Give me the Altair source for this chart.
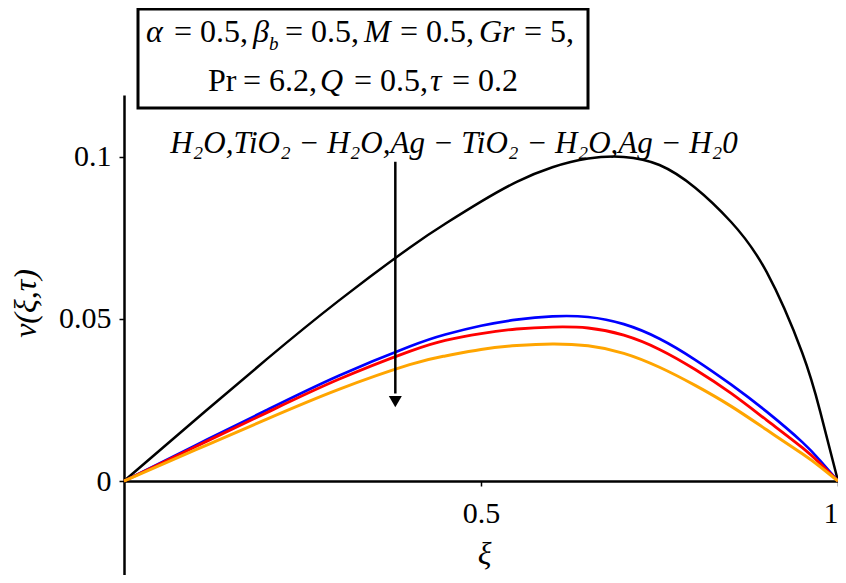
import altair as alt
import pandas as pd

# ---- data ----
xi = [0, 0.1, 0.2, 0.3, 0.4, 0.45, 0.5, 0.55, 0.6, 0.65, 0.7, 0.75, 0.8, 0.85, 0.9, 0.95, 0.975, 1.0]
v_h2o = [0, 0.0189, 0.0376, 0.0555, 0.0720, 0.0794, 0.0862, 0.0923, 0.0968, 0.0995, 0.1000,
         0.0975, 0.0905, 0.0800, 0.0645, 0.0395, 0.0215, 0]
v_tio2_h2o = [0, 0.0110, 0.0219, 0.0324, 0.0415, 0.0452, 0.0479, 0.0498, 0.0508, 0.0506, 0.0484,
              0.0439, 0.0374, 0.0298, 0.0214, 0.0120, 0.0063, 0]
v_ag_tio2_h2o = [0, 0.0106, 0.0211, 0.0313, 0.0400, 0.0434, 0.0455, 0.0469, 0.0475, 0.0472, 0.0450,
                 0.0406, 0.0344, 0.0271, 0.0188, 0.0103, 0.0054, 0]
v_ag_h2o = [0, 0.0096, 0.0191, 0.0282, 0.0359, 0.0386, 0.0406, 0.0418, 0.0423, 0.0417, 0.0394,
            0.0351, 0.0295, 0.0231, 0.0158, 0.0084, 0.0044, 0]

series_names = ["H2O", "TiO2-H2O", "Ag-TiO2-H2O", "Ag-H2O"]
series_colors = ["#000000", "#0000ff", "#ff0000", "#ffa500"]
series_widths = [2.5, 3, 3, 3]

x_ticks = [0.5, 1]
y_ticks = [0, 0.05, 0.1]
x_domain = [0, 1]
y_domain = [-0.029, 0.1191]

arrow_xi = [0.38]
arrow_top = [0.0985]
arrow_bottom = [0.027]
arrow_head = [0.0245]

annotation_text = "H₂O,TiO₂ − H₂O,Ag − TiO₂ − H₂O,Ag − H₂0"

rows = []
for name, vals in zip(series_names, [v_h2o, v_tio2_h2o, v_ag_tio2_h2o, v_ag_h2o]):
    for x, v in zip(xi, vals):
        rows.append({"xi": x, "v": v, "series": name})
df = pd.DataFrame(rows)

# ---- layout ----
W, H = 714, 480
PAD_L, PAD_T = 116, 87
OX, OY = PAD_L + 8, PAD_T + 8          # page position of plot origin
y0_px = H * (y_domain[1] - 0) / (y_domain[1] - y_domain[0])
FONT = "Liberation Serif"

xs = alt.Scale(domain=x_domain, nice=False, zero=False)
ys = alt.Scale(domain=y_domain, nice=False, zero=False)

x_axis = alt.Axis(
    values=x_ticks, format="~g", offset=-(H - y0_px), grid=False,
    domainColor="black", domainWidth=2.5, tickColor="black", tickWidth=1.5, tickSize=5,
    labelFont=FONT, labelFontSize=30, labelColor="black", labelPadding=12,
    title="ξ", titleFont=FONT, titleFontSize=32, titleFontStyle="italic",
    titleFontWeight="normal", titleColor="black",
    titleX=484 - OX, titleY=563 - (OY + y0_px), titleBaseline="alphabetic", titleAlign="center",
)
y_axis = alt.Axis(
    values=y_ticks, format="~g", grid=False,
    domainColor="black", domainWidth=2.5, tickColor="black", tickWidth=1.5, tickSize=5,
    labelFont=FONT, labelFontSize=30, labelColor="black", labelPadding=8,
    title="v(ξ,τ)", titleFont=FONT, titleFontSize=32, titleFontStyle="italic",
    titleFontWeight="normal", titleColor="black", titleAngle=270,
    titleX=25 - OX, titleY=303 - OY, titleBaseline="middle", titleAlign="center",
)

lines = alt.Chart(df).mark_line(interpolate="natural").encode(
    x=alt.X("xi:Q", scale=xs, axis=x_axis),
    y=alt.Y("v:Q", scale=ys, axis=y_axis),
    color=alt.Color("series:N", scale=alt.Scale(domain=series_names, range=series_colors), legend=None),
    strokeWidth=alt.StrokeWidth("series:N", scale=alt.Scale(domain=series_names, range=series_widths),
                                legend=None),
    detail="series:N",
)

arrow_df = pd.DataFrame({"xi": arrow_xi, "top": arrow_top, "bottom": arrow_bottom, "head": arrow_head})
arrow_rule = alt.Chart(arrow_df).mark_rule(color="black", strokeWidth=2.5).encode(
    x=alt.X("xi:Q", scale=xs), y=alt.Y("top:Q", scale=ys), y2="bottom:Q"
)
arrow_tip = alt.Chart(arrow_df).mark_point(
    shape="triangle-down", filled=True, color="black", size=170, opacity=1
).encode(x=alt.X("xi:Q", scale=xs), y=alt.Y("head:Q", scale=ys))

one = pd.DataFrame({"k": [0]})

box = alt.Chart(one).mark_rect(fill="white", stroke="black", strokeWidth=3).encode(
    x=alt.value(138 - OX), x2=alt.value(588 - OX), y=alt.value(9 - OY), y2=alt.value(108 - OY)
)


def seg(text, px, py, italic=False, size=32):
    return alt.Chart(one).mark_text(
        text=text, font=FONT, fontSize=size, fontStyle="italic" if italic else "normal",
        align="left", baseline="alphabetic", color="black",
    ).encode(x=alt.value(px - OX), y=alt.value(py - OY))


segments = [
    seg("α", 146, 42, True), seg("= 0.5,", 174, 42), seg("β", 253, 42, True),
    seg("b", 269, 50, True, 19), seg("= 0.5,", 285, 42), seg("M", 364, 42, True),
    seg("= 0.5,", 400, 42), seg("Gr", 479, 42, True), seg("= 5,", 524, 42),
    seg("Pr", 208, 91), seg("= 6.2,", 243, 91), seg("Q", 320, 91, True),
    seg("= 0.5,", 354, 91), seg("τ", 430, 91, True), seg("= 0.2", 452, 91),
]

annotation = alt.Chart(one).mark_text(
    text=annotation_text, font=FONT, fontSize=31, fontStyle="italic",
    align="center", baseline="alphabetic", color="black",
).encode(x=alt.value(454 - OX), y=alt.value(153 - OY))

chart = alt.layer(lines, arrow_rule, arrow_tip, box, *segments, annotation).properties(
    width=W, height=H,
    autosize=alt.AutoSizeParams(type="none"),
    padding={"left": PAD_L, "top": PAD_T, "right": 0, "bottom": 0},
    background="white",
).configure_view(stroke=None)

chart.save("out.html", embed_options={"renderer": "svg", "actions": False})
